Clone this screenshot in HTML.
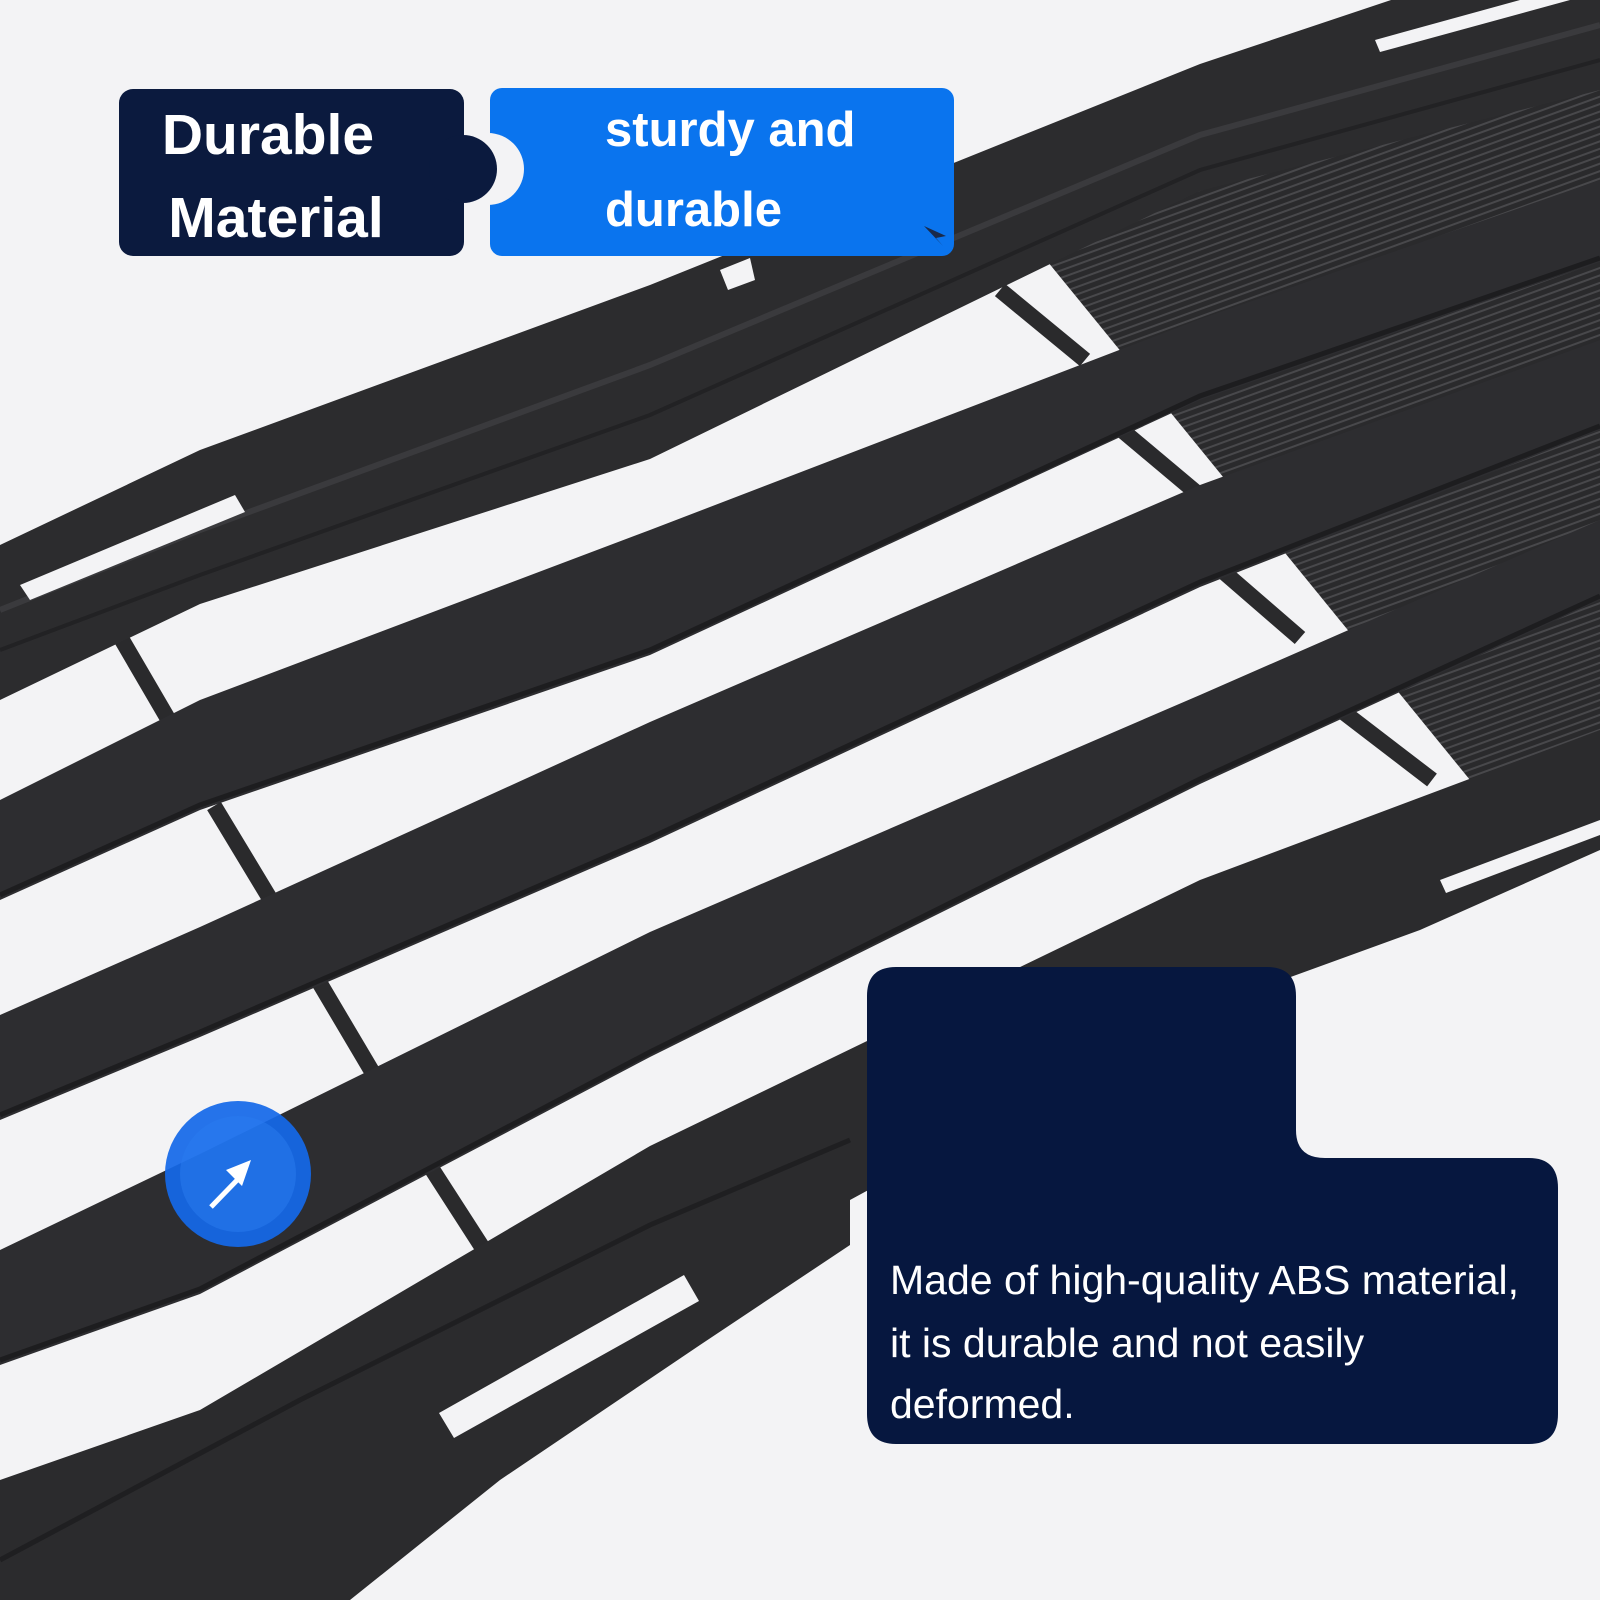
<!DOCTYPE html>
<html><head><meta charset="utf-8"><style>
html,body{margin:0;padding:0;background:#f3f3f5;}
svg{display:block}
</style></head><body>
<svg width="1600" height="1600" viewBox="0 0 1600 1600" xmlns="http://www.w3.org/2000/svg" font-family="Liberation Sans, sans-serif">
<defs>
<pattern id="rib" width="7" height="7" patternUnits="userSpaceOnUse" patternTransform="rotate(-20)">
<rect width="7" height="7" fill="#2a2a2c"/><rect width="7" height="2" fill="#48484b"/>
</pattern>
</defs>
<rect width="1600" height="1600" fill="#f3f3f5"/>
<path d="M1030 240 L1600 -40 L1600 770 L1470 780 Z" fill="url(#rib)"/>
<g stroke="#2a2a2c" stroke-width="16">
<line x1="122" y1="640" x2="192" y2="760"/>
<line x1="214" y1="806" x2="278" y2="912"/>
<line x1="306" y1="960" x2="380" y2="1085"/>
<line x1="408" y1="1132" x2="484" y2="1250"/>
<line x1="1000" y1="290" x2="1085" y2="360"/>
<line x1="1098" y1="410" x2="1198" y2="494"/>
<line x1="1196" y1="548" x2="1300" y2="638"/>
<line x1="1312" y1="688" x2="1432" y2="780"/>
</g>
<path d="M0 545 L200 450 L650 285 L1200 64 L1600 -70 L1600 90 L1200 191 L650 459 L200 604 L0 700 Z" fill="#2c2c2e"/>
<path d="M0 610 L200 530 L650 365 L1200 135 L1600 25" fill="none" stroke="#3a3a3d" stroke-width="6"/>
<path d="M0 650 L200 575 L650 415 L1200 170 L1600 60" fill="none" stroke="#222224" stroke-width="4"/>
<path d="M20 585 L235 495 L245 512 L30 600 Z" fill="#f3f3f5"/>
<path d="M1375 40 L1520 0 L1570 0 L1380 52 Z" fill="#f3f3f5"/>
<path d="M720 270 L750 258 L755 280 L728 290 Z" fill="#f3f3f5"/>
<path d="M0 800 L200 700 L650 530 L1200 319 L1600 180 L1600 262 L1200 400 L650 655 L200 810 L0 900 Z" fill="#2d2d30"/>
<path d="M0 1015 L200 927 L650 722 L1200 485 L1600 340 L1600 430 L1200 587 L650 843 L200 1037 L0 1120 Z" fill="#2d2d30"/>
<path d="M0 1250 L200 1154 L650 932 L1200 695 L1600 520 L1600 600 L1200 784 L650 1057 L200 1294 L0 1365 Z" fill="#2d2d30"/>
<g fill="none" stroke="#1d1d1f" stroke-width="5">
<path d="M0 895 L200 805 L650 650 L1200 396 L1600 258"/>
<path d="M0 1115 L200 1032 L650 838 L1200 582 L1600 426"/>
<path d="M0 1360 L200 1289 L650 1052 L1200 779 L1600 596"/>
</g>
<path d="M0 1480 L200 1410 L650 1146 L1200 880 L1600 730 L1600 850 L1420 930 L1200 1010 L850 1200 L850 1245 L700 1345 L500 1480 L350 1600 L0 1600 Z" fill="#2b2b2d"/>
<path d="M0 1560 L300 1400 L650 1225 L850 1140" fill="none" stroke="#1f1f21" stroke-width="5"/>
<path d="M439 1413 L684 1275 L699 1301 L454 1438 Z" fill="#f3f3f5"/>
<path d="M1440 880 L1600 820 L1600 835 L1446 893 Z" fill="#f3f3f5"/>
<rect x="119" y="89" width="345" height="167" rx="14" fill="#0b1a3e"/>
<rect x="490" y="88" width="464" height="168" rx="12" fill="#0a74ee"/>
<circle cx="488" cy="169" r="36" fill="#f3f3f5"/>
<rect x="464" y="120" width="26" height="98" fill="#f3f3f5"/>
<circle cx="463" cy="169" r="34" fill="#0b1a3e"/>
<text x="268" y="154" font-size="57" font-weight="bold" fill="#fff" text-anchor="middle">Durable</text>
<text x="276" y="237" font-size="57" font-weight="bold" fill="#fff" text-anchor="middle">Material</text>
<text x="605" y="146" font-size="49" font-weight="bold" fill="#fff">sturdy and</text>
<text x="605" y="226" font-size="49" font-weight="bold" fill="#fff">durable</text>
<path d="M924 226 L943 246 L936 238 L946 236 Z" fill="#1a2a4a"/>
<circle cx="238" cy="1174" r="73" fill="#1468e8" opacity="0.93"/>
<circle cx="238" cy="1174" r="58" fill="#2a7cf0" opacity="0.5"/>
<path d="M211 1207 L243 1174" stroke="#fff" stroke-width="5"/>
<path d="M251 1160 L226 1170 L242 1186 Z" fill="#fff"/>
<path d="M896 967 L1267 967 Q1296 967 1296 996 L1296 1130 Q1296 1158 1325 1158 L1529 1158 Q1558 1158 1558 1188 L1558 1414 Q1558 1444 1529 1444 L896 1444 Q867 1444 867 1414 L867 996 Q867 967 896 967 Z" fill="#06173f"/>
<text font-size="41" fill="#fff">
<tspan x="890" y="1294">Made of high-quality ABS material,</tspan>
<tspan x="890" y="1357">it is durable and not easily</tspan>
<tspan x="890" y="1418">deformed.</tspan>
</text>
</svg>
</body></html>
